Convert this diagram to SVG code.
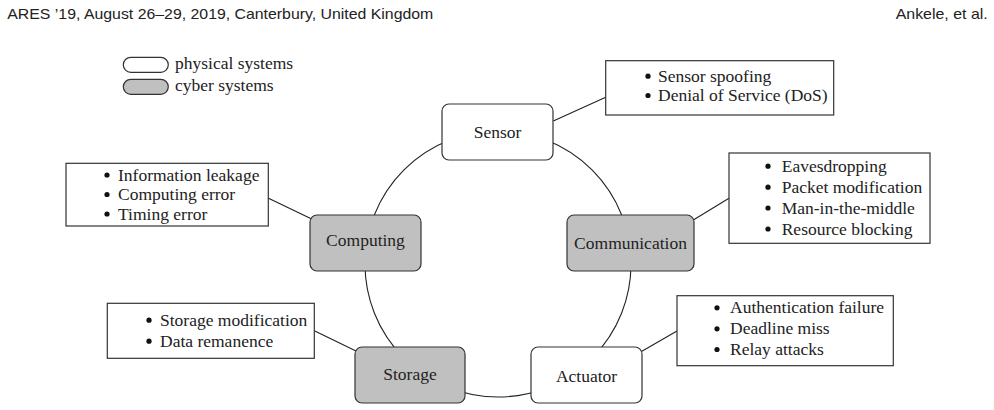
<svg xmlns="http://www.w3.org/2000/svg" width="994" height="410" viewBox="0 0 994 410">
<style>
.hdr{font-family:"Liberation Sans",Arial,sans-serif;font-size:14.5px;fill:#222}
.t{font-family:"Liberation Serif","Times New Roman",serif;font-size:17.5px;fill:#222}
.c{text-anchor:middle}
.phys{fill:#fff;stroke:#333;stroke-width:1.2}
.cyber{fill:#c0c0c0;stroke:#333;stroke-width:1.2}
.list{fill:#fff;stroke:#333;stroke-width:1.2}
.ln{fill:none;stroke:#222;stroke-width:1.1}
.b{fill:#111}
</style>
<rect width="994" height="410" fill="#fff"/>
<text class="hdr" x="7.3" y="19.3" textLength="426" lengthAdjust="spacingAndGlyphs">ARES ’19, August 26–29, 2019, Canterbury, United Kingdom</text>
<text class="hdr" x="987.7" y="19.3" text-anchor="end" textLength="92" lengthAdjust="spacingAndGlyphs">Ankele, et al.</text>

<g id="legend">
<rect class="phys" x="123.3" y="57.3" width="45" height="15" rx="7.5"/>
<text class="t" x="175" y="69.3">physical systems</text>
<rect class="cyber" x="123.3" y="79.3" width="45" height="15" rx="7.5"/>
<text class="t" x="175" y="90.7">cyber systems</text>
</g>

<g id="connectors">
<circle class="ln" cx="498" cy="264" r="133"/>
<line class="ln" x1="553.3" y1="121" x2="605.7" y2="97.3"/>
<line class="ln" x1="693.3" y1="220" x2="729" y2="198.3"/>
<line class="ln" x1="641" y1="351.7" x2="677" y2="331"/>
<line class="ln" x1="356" y1="351" x2="314.3" y2="330.7"/>
<line class="ln" x1="311.7" y1="219" x2="268" y2="198"/>
</g>

<g id="sensor">
<rect class="phys" x="442" y="104" width="111" height="56" rx="7"/>
<text class="t c" x="497.5" y="138.3">Sensor</text>
</g>
<g id="communication">
<rect class="cyber" x="567" y="215" width="127" height="56" rx="7"/>
<text class="t c" x="630.5" y="248.5">Communication</text>
</g>
<g id="actuator">
<rect class="phys" x="531" y="347" width="111" height="56" rx="7"/>
<text class="t c" x="586.5" y="381.5">Actuator</text>
</g>
<g id="storage">
<rect class="cyber" x="355" y="347" width="110" height="56" rx="7"/>
<text class="t c" x="410" y="379.5">Storage</text>
</g>
<g id="computing">
<rect class="cyber" x="310" y="215" width="111" height="56" rx="7"/>
<text class="t c" x="365.5" y="246">Computing</text>
</g>

<g id="sensor-threats">
<rect class="list" x="605.7" y="60.7" width="228" height="54.3"/>
<circle class="b" cx="648" cy="76.2" r="2.6"/>
<text class="t" x="658" y="81.7">Sensor spoofing</text>
<circle class="b" cx="648" cy="95.5" r="2.6"/>
<text class="t" x="658" y="101">Denial of Service (DoS)</text>
</g>
<g id="communication-threats">
<rect class="list" x="729" y="153" width="201" height="90.3"/>
<circle class="b" cx="768" cy="166.2" r="2.6"/>
<text class="t" x="781.7" y="171.7">Eavesdropping</text>
<circle class="b" cx="768" cy="187.2" r="2.6"/>
<text class="t" x="781.7" y="192.7">Packet modification</text>
<circle class="b" cx="768" cy="208" r="2.6"/>
<text class="t" x="781.7" y="213.5">Man-in-the-middle</text>
<circle class="b" cx="768" cy="229" r="2.6"/>
<text class="t" x="781.7" y="234.5">Resource blocking</text>
</g>
<g id="actuator-threats">
<rect class="list" x="677" y="295.7" width="216.3" height="70"/>
<circle class="b" cx="717" cy="307.8" r="2.6"/>
<text class="t" x="730" y="313.3">Authentication failure</text>
<circle class="b" cx="717" cy="328.8" r="2.6"/>
<text class="t" x="730" y="334.3">Deadline miss</text>
<circle class="b" cx="717" cy="349.5" r="2.6"/>
<text class="t" x="730" y="355">Relay attacks</text>
</g>
<g id="storage-threats">
<rect class="list" x="107.3" y="303.3" width="207" height="55"/>
<circle class="b" cx="149" cy="320.2" r="2.6"/>
<text class="t" x="160" y="325.7">Storage modification</text>
<circle class="b" cx="149" cy="341.2" r="2.6"/>
<text class="t" x="160" y="346.7">Data remanence</text>
</g>
<g id="computing-threats">
<rect class="list" x="66" y="163.3" width="202.3" height="62.7"/>
<circle class="b" cx="107" cy="175" r="2.6"/>
<text class="t" x="118" y="180.5">Information leakage</text>
<circle class="b" cx="107" cy="194.5" r="2.6"/>
<text class="t" x="118" y="200">Computing error</text>
<circle class="b" cx="107" cy="214" r="2.6"/>
<text class="t" x="118" y="219.5">Timing error</text>
</g>
</svg>
